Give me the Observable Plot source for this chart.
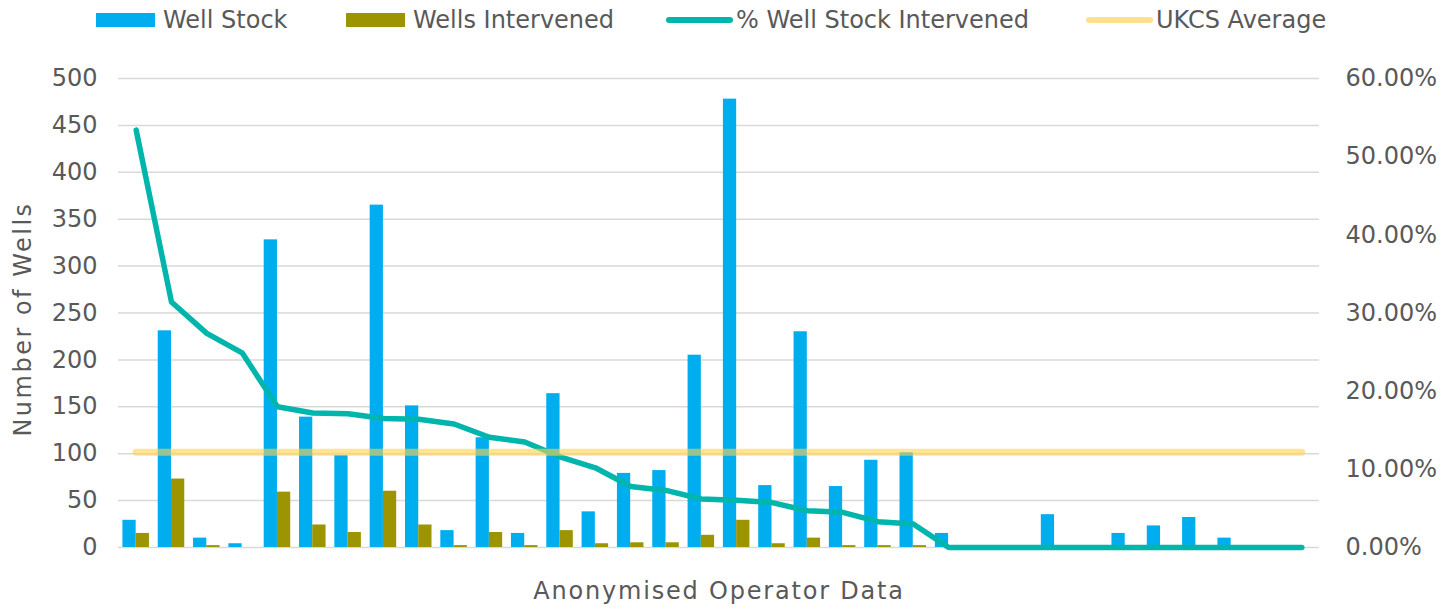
<!DOCTYPE html>
<html>
<head>
<meta charset="utf-8">
<script src="https://cdn.jsdelivr.net/npm/d3@7"></script>
<script src="https://cdn.jsdelivr.net/npm/@observablehq/plot@0.6"></script>
<style>
  html, body { margin: 0; padding: 0; background: #fff; }
  body { width: 1443px; height: 610px; overflow: hidden; font-family: "DejaVu Sans", sans-serif; color: #595959; }
  #legend { position: relative; height: 40px; width: 1443px; font-size: 24px; }
  .item { position: absolute; top: 0; height: 40px; display: flex; align-items: center; white-space: nowrap; }
  .sw-bar { width: 59px; height: 14px; margin-right: 8px; margin-top: -1px; }
  .sw-line { width: 67px; height: 6px; border-radius: 3px; margin-right: 3px; margin-top: -1px; }
</style>
</head>
<body>
<div id="legend"></div>
<div id="chart"></div>
<script>
// ---- data ----
const categories = Array.from({length: 34}, (_, i) => "Operator " + (i + 1));
const wellStock = [29, 231, 10, 4, 328, 139, 98, 365, 151, 18, 117, 15, 164, 38, 79, 82, 205, 478, 66, 230, 65, 93, 101, 15, 0, 0, 35, 0, 15, 23, 32, 10, 0, 0];
const wellsIntervened = [15, 73, 2, 0, 59, 24, 16, 60, 24, 2, 16, 2, 18, 4, 5, 5, 13, 29, 4, 10, 2, 2, 2, 0, 0, 0, 0, 0, 0, 0, 0, 0, 0, 0];
const pctIntervened = [53.4, 31.4, 27.4, 24.9, 18.0, 17.2, 17.1, 16.5, 16.4, 15.8, 14.1, 13.5, 11.6, 10.2, 7.8, 7.3, 6.2, 6.05, 5.75, 4.7, 4.5, 3.3, 3.0, 0, 0, 0, 0, 0, 0, 0, 0, 0, 0, 0];
const ukcsAverage = 12.2;
const leftTicks = [0, 50, 100, 150, 200, 250, 300, 350, 400, 450, 500];
const rightTicks = [0, 10, 20, 30, 40, 50, 60];
const leftMax = 500, rightMax = 60;

const seriesNames = ["Well Stock", "Wells Intervened", "% Well Stock Intervened", "UKCS Average"];
const yTitle = "Number of Wells";
const xTitle = "Anonymised Operator Data";
const colors = {stock: "#00AEEF", intervened: "#9C9400", pct: "#00B5AC", ukcs: "#FFD24F"};

const rows = categories.map((c, i) => ({cat: c, stock: wellStock[i], intervened: wellsIntervened[i], pct: pctIntervened[i], ukcs: ukcsAverage}));
const toLeft = p => p / rightMax * leftMax;

// ---- legend ----
const legend = document.getElementById("legend");
const legendItems = [
  {name: seriesNames[0], kind: "bar", color: colors.stock, left: 96},
  {name: seriesNames[1], kind: "bar", color: colors.intervened, left: 346},
  {name: seriesNames[2], kind: "line", color: colors.pct, left: 666},
  {name: seriesNames[3], kind: "line", color: "#FFE08C", left: 1086}
];
for (const it of legendItems) {
  const d = document.createElement("div");
  d.className = "item";
  d.style.left = it.left + "px";
  const sw = document.createElement("span");
  sw.className = it.kind === "bar" ? "sw-bar" : "sw-line";
  sw.style.background = it.color;
  const t = document.createElement("span");
  t.textContent = it.name;
  d.appendChild(sw); d.appendChild(t);
  legend.appendChild(d);
}

// ---- chart ----
const chart = Plot.plot({
  width: 1443,
  height: 570,
  marginTop: 38,
  marginBottom: 63,
  marginLeft: 118,
  marginRight: 124,
  style: {fontFamily: "DejaVu Sans, sans-serif", fontSize: "24px", color: "#595959", background: "#fff"},
  x: {domain: categories, padding: 0, round: false, axis: null},
  y: {domain: [0, leftMax], axis: null},
  marks: [
    Plot.gridY(leftTicks, {stroke: "#D9D9D9", strokeOpacity: 1, strokeWidth: 1.5}),
    Plot.axisY({anchor: "left", ticks: leftTicks, tickSize: 0, tickPadding: 21, label: null}),
    Plot.axisY({anchor: "right", ticks: rightTicks.map(toLeft), tickSize: 0, tickPadding: 26, label: null,
      tickFormat: d => (d / leftMax * rightMax).toFixed(2) + "%"}),
    Plot.barY(rows, {x: "cat", y: "stock", fill: colors.stock, insetLeft: 4.4, insetRight: 17.66}),
    Plot.barY(rows, {x: "cat", y: "intervened", fill: colors.intervened, insetLeft: 17.66, insetRight: 4.4}),
    Plot.line(rows, {x: "cat", y: d => toLeft(d.pct), stroke: colors.pct, strokeWidth: 5.5, strokeLinejoin: "round", strokeLinecap: "round"}),
    Plot.line(rows, {x: "cat", y: d => toLeft(d.ukcs), stroke: colors.ukcs, strokeOpacity: 0.6, strokeWidth: 7, strokeLinecap: "round"}),
    Plot.text([yTitle], {frameAnchor: "left", dx: -95, dy: 6, rotate: -90, textAnchor: "middle", fontSize: 24, fill: "#595959", text: d => d}),
    Plot.text([xTitle], {frameAnchor: "bottom", dy: 44, fontSize: 24, fill: "#595959", text: d => d, lineAnchor: "middle"})
  ]
});
for (const t of chart.querySelectorAll("text")) {
  if (t.textContent === yTitle) t.style.letterSpacing = "2.5px";
  if (t.textContent === xTitle) t.style.letterSpacing = "1.8px";
}
document.getElementById("chart").appendChild(chart);
</script>
</body>
</html>
